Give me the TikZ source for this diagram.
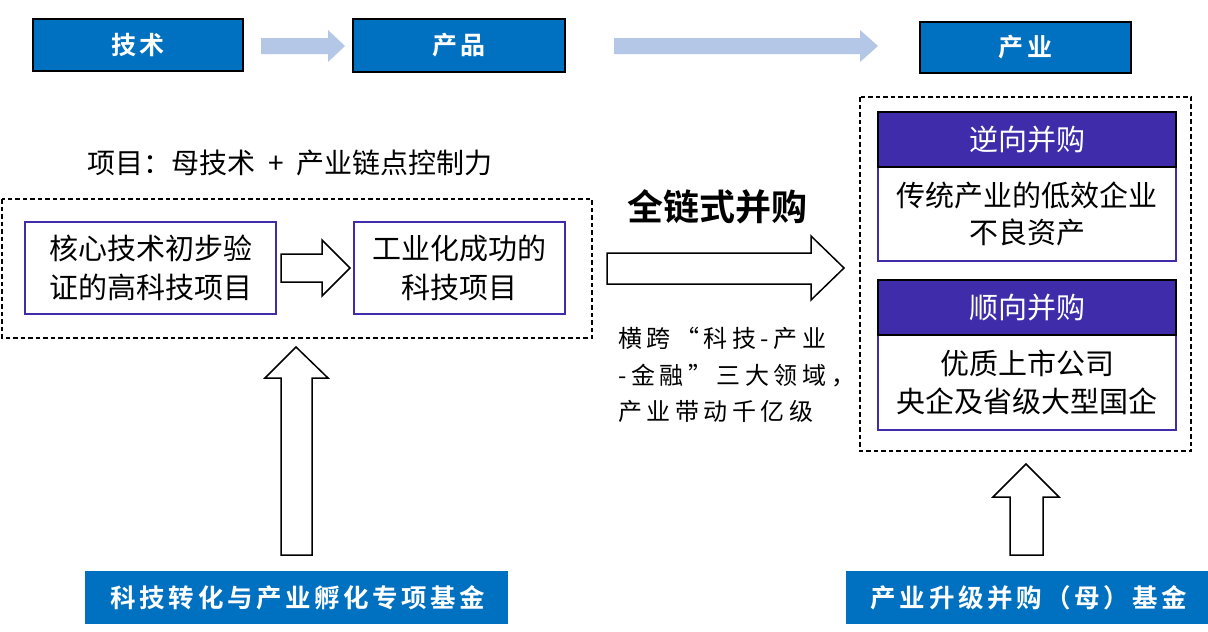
\documentclass[tikz,border=0pt]{standalone}
\usepackage{fontspec}
\setmainfont{Noto Sans CJK SC}
\newfontfamily\cjk{Noto Sans CJK SC}
\newfontfamily\cjkb{Noto Sans CJK SC Bold}
\newfontfamily\cjkbsp[LetterSpace=14]{Noto Sans CJK SC Bold}
\newfontfamily\cjksp[LetterSpace=19]{Noto Sans CJK SC}
\definecolor{hdblue}{HTML}{0070C0}
\definecolor{lightarr}{HTML}{B4C7E7}
\definecolor{purp}{HTML}{3F2CAA}
\begin{document}
\begin{tikzpicture}[x=1pt,y=-1pt,
  bluehead/.style={draw=black,line width=1.6pt,fill=hdblue,text=white,font=\cjkbsp\fontsize{25}{28}\selectfont,inner sep=0pt},
  bluefund/.style={fill=hdblue,text=white,font=\cjkbsp\fontsize{25.5}{28}\selectfont,inner sep=0pt},
  projbox/.style={draw=purp,line width=1.4pt,fill=white,align=center,font=\cjk\fontsize{29}{39}\selectfont,inner sep=0pt},
  purphead/.style={draw=black,line width=1.6pt,fill=purp,text=white,font=\cjk\fontsize{29}{32}\selectfont,inner sep=0pt},
  purpbody/.style={draw=purp,line width=1.4pt,fill=white,align=center,font=\cjk\fontsize{29}{37.5}\selectfont,inner sep=0pt},
  dashbox/.style={draw=black,line width=1.3pt,dash pattern=on 4.5pt off 3pt},
  hollow/.style={draw=black,line width=1.5pt,fill=white,line join=miter}
]
\useasboundingbox (0,0) rectangle (1208,632);
\fill[white] (0,0) rectangle (1208,632);

% top row
\draw[bluehead] (33,19) rectangle (243,71) node[midway] (tech) {技术};
\draw[bluehead] (353,19) rectangle (565,72) node[midway] (prod) {产品};
\draw[bluehead] (920,22) rectangle (1131,73) node[midway] (ind) {产业};
\fill[lightarr] (261,38) -- (328,38) -- (328,30) -- (345,46) -- (328,62) -- (328,54) -- (261,54) -- cycle;
\fill[lightarr] (614,38) -- (860,38) -- (860,30) -- (878,46) -- (860,62) -- (860,54) -- (614,54) -- cycle;

% left part
\node[font=\cjk\fontsize{28}{32}\selectfont] (title) at (290,163) {项目：母技术\ \ +\ \ 产业链点控制力};
\draw[dashbox] (2,199) rectangle (592,338);
\draw[projbox] (25,222) rectangle (276,314) node[midway] (p1) {核心技术初步验\\证的高科技项目};
\draw[projbox] (354,222) rectangle (565,314) node[midway] (p2) {工业化成功的\\科技项目};
\draw[hollow] (281,254) -- (322,254) -- (322,240) -- (350,268) -- (322,296) -- (322,282) -- (281,282) -- cycle;

% left up arrow
\draw[hollow] (281,555) -- (281,378) -- (265,378) -- (296,347) -- (328,378) -- (312,378) -- (312,555) -- cycle;
\fill[hdblue] (85,571) rectangle (508,624);
\node[bluefund] (fund1) at (298,598) {科技转化与产业孵化专项基金};

% middle
\node[font=\cjkb\fontsize{36}{40}\selectfont] (full) at (717,207) {全链式并购};
\draw[hollow] (607,253) -- (811,253) -- (811,236) -- (844,268) -- (811,300) -- (811,284) -- (607,284) -- cycle;
\node[font=\cjksp\fontsize{24}{36.5}\selectfont,align=left,anchor=north west,inner sep=0pt] (span) at (618,327) {横跨“科技-产业\\-金融”三大领域，\\产业带动千亿级};

% right part
\draw[dashbox] (860,97) rectangle (1191,451);
\draw[purpbody] (878,167) rectangle (1176,261) node[midway] (b1) {传统产业的低效企业\\不良资产};
\draw[purphead] (878,112) rectangle (1176,167) node[midway] (h1) {逆向并购};
\draw[purpbody] (878,335) rectangle (1176,430) node[midway] (b2) {优质上市公司\\央企及省级大型国企};
\draw[purphead] (878,280) rectangle (1176,335) node[midway] (h2) {顺向并购};

\draw[hollow] (1010,555) -- (1010,497) -- (993,497) -- (1026,464) -- (1059,497) -- (1043,497) -- (1043,555) -- cycle;
\fill[hdblue] (846,571) rectangle (1208,624);
\node[bluefund] (fund2) at (1029,598) {产业升级并购（母）基金};
\end{tikzpicture}
\end{document}
